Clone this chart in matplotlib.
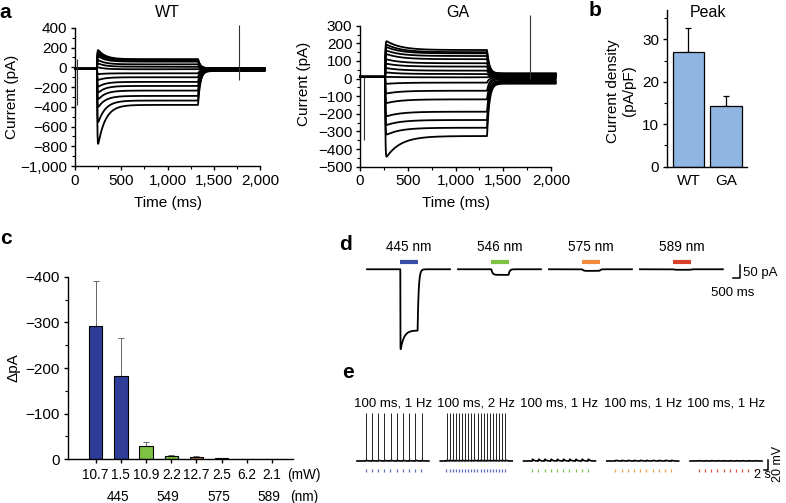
import matplotlib.pyplot as plt
import numpy as np
from matplotlib.ticker import FuncFormatter, MultipleLocator

plt.rcParams['font.family'] = ['Liberation Sans', 'DejaVu Sans']
plt.rcParams['font.size'] = 11
plt.rcParams['axes.linewidth'] = 1.0
plt.rcParams['xtick.major.size'] = 3
plt.rcParams['ytick.major.size'] = 3
plt.rcParams['xtick.minor.size'] = 2
plt.rcParams['ytick.minor.size'] = 2
plt.rcParams['xtick.major.width'] = 1.0
plt.rcParams['ytick.major.width'] = 1.0
plt.rcParams['xtick.minor.width'] = 0.8
plt.rcParams['ytick.minor.width'] = 0.8

W, H = 786, 503

# a: current families, one steady level and one peak per trace (pA)
wt_steady = [82, 78, 74, 68, 57, 30, 6, -20, -61, -101, -148, -189, -236, -290, -337, -381]
wt_peak = [180, 165, 150, 135, 115, 75, 40, 0, -70, -130, -200, -260, -330, -410, -570, -800]
ga_steady = [162, 150, 143, 128, 110, 87, 68, 45, 26, 7, -23, -69, -118, -188, -235, -279, -326]
ga_peak = [215, 195, 180, 160, 140, 110, 85, 60, 35, 10, -30, -85, -140, -215, -265, -320, -450]
wt_art_t = [25, 1773]
wt_art_lo = [-381, -130]
wt_art_hi = [82, 430]
ga_art_t = [40, 1780]
ga_art_lo = [-350, 0]
ga_art_hi = [10, 360]

# b: peak current density
b_groups = ['WT', 'GA']
b_mean = [27.0, 14.2]
b_sem = [5.7, 2.4]

# c: light-evoked current per wavelength / power
c_power = ['10.7', '1.5', '10.9', '2.2', '12.7', '2.5', '6.2', '2.1']
c_wave = ['445', '549', '575', '589']
c_delta = [-292, -182, -30, -8, -6, -2.5, -0.6, -0.4]
c_err = [98, 84, 8.5, 1.5, 1.5, 1.0, 0.3, 0.3]
c_colors = ['#2f3d99', '#2f3d99', '#7dc242', '#7dc242', '#c0784e', '#c0784e', '#d9402a', '#d9402a']

# d: example photocurrents
d_labels = ['445 nm', '546 nm', '575 nm', '589 nm']
d_colors = ['#3a4ea6', '#7dc242', '#f08a3c', '#d9402a']
d_peak = [-310, -22, -7, -2]
d_plateau = [-230, -21, -6, -2]
d_tau_on = [0.005, 0.1, 0.1, 0.1]

# e: voltage responses to pulse trains
e_titles = ['100 ms, 1 Hz', '100 ms, 2 Hz', '100 ms, 1 Hz', '100 ms, 1 Hz', '100 ms, 1 Hz']
e_rate = [1, 2, 1, 1, 1]
e_npulse = [10, 20, 10, 10, 10]
e_first = [1.4, 1.0, 1.4, 1.4, 1.4]
e_resp = [96, 96, 5.5, 2.0, 1.0]
e_colors = ['#5a6fc0', '#5a6fc0', '#7cc04a', '#f0a050', '#d9543c']

fig = plt.figure(figsize=(W / 100, H / 100), dpi=100)


def px_axes(x0, y0, x1, y1):
    return fig.add_axes([x0 / W, 1 - y1 / H, (x1 - x0) / W, (y1 - y0) / H])


def panel_label(x, y, s):
    fig.text(x / W, 1 - y / H, s, fontsize=15, fontweight='bold', ha='center', va='center')


def minus(v, pos):
    return f'{v:,.0f}'.replace('-', '\u2212')


def clean(ax):
    for s in ['top', 'right']:
        ax.spines[s].set_visible(False)


def step_family(ax, steady, peak, base, t_on, t_off, tau, tail_frac):
    t = np.arange(0, 2050, 1.0)
    for ss, pk in zip(steady, peak):
        i = np.full_like(t, float(base))
        on = (t >= t_on) & (t < t_off)
        dt = t[on] - t_on
        act = 1 - np.exp(-dt / 3)
        inact = ss + (pk - ss) * np.exp(-np.maximum(dt - 10, 0) / tau)
        i[on] = base + act * (inact - base)
        end_val = i[on][-1]
        off = t >= t_off
        tail = base + tail_frac * ss
        i[off] = tail + (end_val - tail) * np.exp(-(t[off] - t_off) / 25)
        ax.plot(t, i, color='black', lw=1.3, clip_on=False)


def labels(ax, xl, yl, xpos, ypos):
    ax.set_xlabel(xl, fontsize=11, va='center')
    ax.xaxis.set_label_coords(*xpos)
    ax.set_ylabel(yl, fontsize=11, va='center')
    ax.yaxis.set_label_coords(*ypos)


# ---- a: WT ----
ax = px_axes(75, 27.8, 260, 166)
step_family(ax, wt_steady, wt_peak, -15, 238, 1330, 80, 0.06)
ax.vlines(wt_art_t, wt_art_lo, wt_art_hi, color='#333333', lw=0.8, clip_on=False)
ax.set_xlim(0, 2000)
ax.set_ylim(-1000, 400)
ax.xaxis.set_major_locator(MultipleLocator(500))
ax.xaxis.set_minor_locator(MultipleLocator(250))
ax.yaxis.set_major_locator(MultipleLocator(200))
ax.yaxis.set_minor_locator(MultipleLocator(100))
ax.xaxis.set_major_formatter(FuncFormatter(minus))
ax.yaxis.set_major_formatter(FuncFormatter(minus))
ax.tick_params(pad=2.5)
labels(ax, 'Time (ms)', 'Current (pA)', (0.503, -0.268), (-0.34, 0.5))
ax.text(0.5, 1.114, 'WT', transform=ax.transAxes, ha='center', va='center', fontsize=11.5)
clean(ax)

# ---- a: GA ----
ax = px_axes(360, 25.7, 551, 166.7)
step_family(ax, ga_steady, ga_peak, 10, 263, 1330, 150, 0.12)
ax.vlines(ga_art_t, ga_art_lo, ga_art_hi, color='#333333', lw=0.8, clip_on=False)
ax.set_xlim(0, 2000)
ax.set_ylim(-500, 300)
ax.xaxis.set_major_locator(MultipleLocator(500))
ax.xaxis.set_minor_locator(MultipleLocator(250))
ax.yaxis.set_major_locator(MultipleLocator(100))
ax.yaxis.set_minor_locator(MultipleLocator(50))
ax.xaxis.set_major_formatter(FuncFormatter(minus))
ax.yaxis.set_major_formatter(FuncFormatter(minus))
ax.tick_params(pad=2.5)
labels(ax, 'Time (ms)', 'Current (pA)', (0.5, -0.257), (-0.295, 0.59))
ax.text(0.51, 1.097, 'GA', transform=ax.transAxes, ha='center', va='center', fontsize=11.5)
clean(ax)

# ---- b ----
ax = px_axes(667, 10, 747, 166.7)
xb = np.arange(len(b_groups))
ax.bar(xb, b_mean, width=0.84, color='#8fb6e3', edgecolor='black', lw=0.9, zorder=2)
ax.errorbar(xb, b_mean, yerr=[[0] * len(b_sem), b_sem], fmt='none', ecolor='black',
            elinewidth=0.9, capsize=2.5, capthick=0.9, zorder=1)
ax.set_xlim(-0.573, 1.56)
ax.set_ylim(0, 36.9)
ax.set_xticks(xb)
ax.set_xticklabels(b_groups)
ax.tick_params(axis='x', length=0, pad=5)
ax.yaxis.set_major_locator(MultipleLocator(10))
ax.yaxis.set_minor_locator(MultipleLocator(5))
ax.tick_params(axis='y', pad=2.5)
ax.set_ylabel('Current density\n(pA/pF)', fontsize=11, linespacing=1.1, va='center')
ax.yaxis.set_label_coords(-0.575, 0.483)
ax.text(0.51, 0.985, 'Peak', transform=ax.transAxes, ha='center', va='center', fontsize=11.5)
clean(ax)

# ---- c ----
ax = px_axes(67.7, 276.7, 292.7, 459.3)
xc = np.arange(len(c_power))
ax.bar(xc, c_delta, width=0.53, color=c_colors, edgecolor='black', lw=0.8, zorder=2)
ax.errorbar(xc, c_delta, yerr=[c_err, [0] * len(c_err)], fmt='none', ecolor='#666666',
            elinewidth=0.7, capsize=2, capthick=0.7, zorder=1)
ax.set_xlim(-1.11, 7.82)
ax.set_ylim(0, -400)
ax.set_xticks(xc)
ax.set_xticklabels(c_power, fontsize=9.8)
ax.yaxis.set_major_locator(MultipleLocator(100))
ax.yaxis.set_minor_locator(MultipleLocator(50))
ax.yaxis.set_major_formatter(FuncFormatter(minus))
ax.tick_params(axis='y', labelsize=11, pad=2.5)
ax.tick_params(axis='x', pad=3)
trans = ax.get_xaxis_transform()
ax.text(8.27, -0.086, '(mW)', transform=trans, ha='center', va='center', fontsize=9.8)
for k, wl in enumerate(c_wave):
    ax.text(2 * k + 0.88, -0.206, wl, transform=trans, ha='center', va='center', fontsize=9.8)
ax.text(8.27, -0.206, '(nm)', transform=trans, ha='center', va='center', fontsize=9.8)
ax.set_ylabel('\u0394pA', fontsize=11, va='center')
ax.yaxis.set_label_coords(-0.243, 0.5)
clean(ax)

# ---- d ----
ax = px_axes(360, 240, 760, 360)
ax.set_xlim(0, 400 / 13.3)
ax.set_ylim(-341, 110)
ax.axis('off')
seg = np.arange(0, 6.24, 0.005)
for k in range(len(d_labels)):
    s0 = 0.53 + 6.84 * k
    i = np.zeros_like(seg)
    on = (seg >= 2.5) & (seg < 3.8)
    dt = seg[on] - 2.5
    act = 1 - np.exp(-dt / d_tau_on[k])
    i[on] = act * (d_plateau[k] + (d_peak[k] - d_plateau[k]) * np.exp(-dt / 0.25))
    off = seg >= 3.8
    i[off] = i[on][-1] * np.exp(-(seg[off] - 3.8) / 0.08)
    ax.plot(s0 + seg, i, color='black', lw=1.3)
    ax.plot([s0 + 2.5, s0 + 3.8], [27, 27], color=d_colors[k], lw=3, solid_capstyle='butt')
    ax.text(s0 + 3.15, 84, d_labels[k], ha='center', va='center', fontsize=9.8)
ax.plot([28.07, 28.57, 28.57], [-34, -34, 16], color='black', lw=1.1)
ax.text(28.77, -13, '50 pA', ha='left', va='center', fontsize=9.5)
ax.text(28.02, -88, '500 ms', ha='center', va='center', fontsize=9.5)

# ---- e ----
ax = px_axes(350, 405, 786, 485)
ax.set_xlim(0, 436 / 6.2)
ax.set_ylim(-113, 47)
ax.axis('off')
seg = np.arange(0, 11.6, 0.002)
for k in range(len(e_titles)):
    s0 = 1.13 + 13.43 * k
    pulses = e_first[k] + np.arange(e_npulse[k]) / e_rate[k]
    v = np.full_like(seg, -65.0)
    spiking = e_resp[k] > 50
    bump = 2.0 if spiking else e_resp[k]
    for p in pulses:
        dt = seg - p
        m = dt >= 0
        v[m] += bump * (1 - np.exp(-dt[m] / 0.03)) * np.exp(-dt[m] / 0.2)
    ax.plot(s0 + seg, v, color='black', lw=1.2)
    if spiking:
        ax.vlines(s0 + pulses + 0.02, -65, -65 + e_resp[k], color='#222222', lw=0.7)
    ax.vlines(s0 + pulses, -80, -87, color=e_colors[k], lw=0.9)
    ax.text(s0 + 5.8, 51, e_titles[k], ha='center', va='center', fontsize=9.5)
ax.plot([66.77, 67.47, 67.47], [-83, -83, -63], color='black', lw=1.1)
ax.text(66.6, -92, '2 s', ha='center', va='center', fontsize=9)
ax.text(69.1, -71, '20 mV', ha='center', va='center', rotation=90, fontsize=9)

panel_label(5, 12, 'a')
panel_label(595, 10, 'b')
panel_label(6, 238, 'c')
panel_label(346, 245, 'd')
panel_label(348, 373, 'e')

fig.savefig('out.png', dpi=100)
